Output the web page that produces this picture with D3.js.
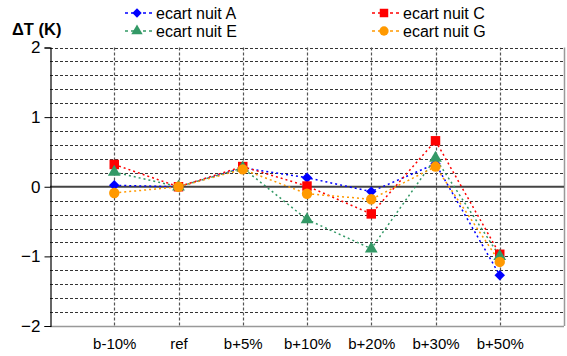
<!DOCTYPE html>
<html><head><meta charset="utf-8">
<script src="https://cdn.jsdelivr.net/npm/d3@7"></script>
<style>html,body{margin:0;padding:0;background:#fff;}svg{display:block;font-family:"Liberation Sans",Arial,sans-serif;}</style>
</head><body>
<svg id="c" width="567" height="356"></svg>
<script>
const categories = ["b-10%","ref","b+5%","b+10%","b+20%","b+30%","b+50%"];
const seriesNames = ["ecart nuit A","ecart nuit C","ecart nuit E","ecart nuit G"];
const valuesA = [0.02, 0, 0.27, 0.13, -0.07, 0.33, -1.27];
const valuesC = [0.32, 0, 0.29, 0.01, -0.39, 0.66, -0.97];
const valuesE = [0.21, 0, 0.27, -0.47, -0.89, 0.41, -1.0];
const valuesG = [-0.09, 0, 0.25, -0.10, -0.18, 0.29, -1.08];
const yTicks = [-2, -1, 0, 1, 2];
const colors = ["#0000FF","#FF0000","#339966","#FF9900"];
const symbols = [d3.symbolSquare, d3.symbolSquare, d3.symbolTriangle, d3.symbolCircle];
const rotations = [45, 0, 0, 0];

const series = [valuesA, valuesC, valuesE, valuesG].map((v,i)=>({name:seriesNames[i], values:v, color:colors[i], symbol:symbols[i], rot:rotations[i]}));

const svg = d3.select("#c");
const L=50, R=564, T=47.5, B=326;
const x = d3.scaleLinear().domain([0, categories.length+1]).range([L, R]);
const y = d3.scaleLinear().domain([-2, 2]).range([B, T]);

// horizontal grid every 0.2
const hg = d3.range(-1.8, 2.0001, 0.2).map(v=>+v.toFixed(1)).filter(v=>Math.abs(v)>1e-9);
svg.append("g").selectAll("line").data(hg).join("line")
  .attr("x1", L).attr("x2", R).attr("y1", d=>Math.round(y(d))+0.5).attr("y2", d=>Math.round(y(d))+0.5)
  .attr("stroke", "#333").attr("stroke-width", 1).attr("stroke-dasharray", "3,2");
// vertical grid at categories
svg.append("g").selectAll("line").data(categories).join("line")
  .attr("x1", (d,i)=>Math.round(x(i+1))+0.5).attr("x2", (d,i)=>Math.round(x(i+1))+0.5)
  .attr("y1", T).attr("y2", B)
  .attr("stroke", "#555").attr("stroke-width", 1.2).attr("stroke-dasharray", "3,2");
// border right & bottom
svg.append("line").attr("x1", R+0.5).attr("x2", R+0.5).attr("y1", T).attr("y2", B).attr("stroke","#999").attr("stroke-width",1.5);
svg.append("line").attr("x1", L).attr("x2", R).attr("y1", Math.round(B)+0.5).attr("y2", Math.round(B)+0.5).attr("stroke","#999").attr("stroke-width",1.5);
// zero line
svg.append("line").attr("x1", L).attr("x2", R).attr("y1", y(0)).attr("y2", y(0)).attr("stroke","#444").attr("stroke-width",2);

// y axis
const yAxis = d3.axisLeft(y).tickValues(yTicks).tickFormat(d3.format("d")).tickSize(6).tickPadding(4);
const ga = svg.append("g").attr("transform", `translate(${L+0.5},0)`).call(yAxis);
ga.select(".domain").attr("stroke","#000").attr("stroke-width",1.2);
ga.selectAll(".tick line").attr("stroke","#000");
ga.selectAll("text").attr("font-size", 17).attr("fill","#000").attr("font-family","Liberation Sans, Arial, sans-serif");

// x labels
const xAxis = d3.axisBottom(x).tickValues(d3.range(1, categories.length+1)).tickFormat(i=>categories[i-1]).tickSize(0).tickPadding(12);
const gx = svg.append("g").attr("transform", `translate(0,${B})`).call(xAxis);
gx.select(".domain").remove();
gx.selectAll("text").attr("font-size", 15).attr("fill","#000").attr("font-family","Liberation Sans, Arial, sans-serif");

// title
svg.append("text").attr("x", 12).attr("y", 35).attr("font-size", 16.5).attr("font-weight","bold").text("ΔT (K)");

// series lines
const line = d3.line().x((d,i)=>x(i+1)).y(d=>y(d));
series.forEach(s=>{
  svg.append("path").attr("d", line(s.values)).attr("fill","none")
    .attr("stroke", s.color).attr("stroke-width", 1.5).attr("stroke-dasharray","2,3");
});
const symSize = {0:55, 1:90, 2:70, 3:85};
series.forEach((s,si)=>{
  svg.append("g").selectAll("path").data(s.values).join("path")
    .attr("transform",(d,i)=>`translate(${x(i+1)},${y(d)}) rotate(${s.rot})`)
    .attr("d", d3.symbol().type(s.symbol).size(symSize[si]))
    .attr("fill", s.color);
});

// legend
const legPos = [{lx:125, ly:13},{lx:372, ly:13},{lx:125, ly:31},{lx:372, ly:31}];
series.forEach((s,si)=>{
  const p = legPos[si];
  const g = svg.append("g");
  g.append("line").attr("x1", p.lx).attr("x2", p.lx+27).attr("y1", p.ly).attr("y2", p.ly)
    .attr("stroke", s.color).attr("stroke-width", 1.5).attr("stroke-dasharray","3,3");
  g.append("path").attr("transform", `translate(${p.lx+12},${p.ly}) rotate(${s.rot})`).attr("d", d3.symbol().type(s.symbol).size(symSize[si]*0.8)).attr("fill", s.color);
  g.append("text").attr("x", p.lx+31).attr("y", p.ly+5.5).attr("font-size", 16).attr("fill","#000").text(s.name);
});
</script>
</body></html>
